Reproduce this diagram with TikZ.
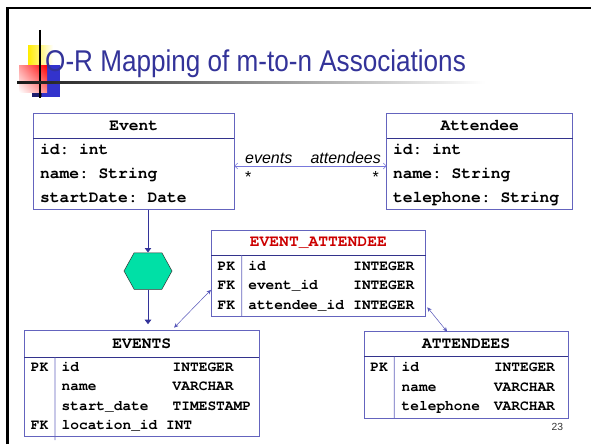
\documentclass[tikz,border=0pt]{standalone}
\usepackage{fontspec}
\setmainfont{Liberation Sans}
\newfontfamily\codefont{texgyrecursor}[Extension=.otf, UprightFont=*-regular, BoldFont=*-bold]
\usepackage{array}
\usetikzlibrary{arrows.meta,positioning,shapes.symbols,shadings}

\definecolor{titleblue}{RGB}{51,51,153}
\definecolor{boxline}{RGB}{100,100,190}
\definecolor{darkrule}{RGB}{51,51,140}
\definecolor{assoccol}{RGB}{120,120,220}
\definecolor{linkcol}{RGB}{85,85,185}
\definecolor{tabred}{RGB}{204,0,0}
\definecolor{hexgreen}{RGB}{0,224,166}
\definecolor{decoblue}{RGB}{51,51,204}
\definecolor{deconavy}{RGB}{30,30,110}

\begin{document}
\begin{tikzpicture}[x=1pt, y=-1pt,
    classhead/.style={rectangle, draw=boxline, line width=0.8pt, inner sep=0pt, outer sep=0pt, minimum height=25.3pt, font=\codefont\bfseries\fontsize{16.3}{19}\selectfont},
    classbody/.style={rectangle, draw=boxline, line width=0.8pt, inner sep=0pt, outer sep=0pt, minimum height=70.7pt, font=\codefont\bfseries\frenchspacing\fontsize{16.3}{23.8}\selectfont},
    tablebody/.style={rectangle, draw=boxline, line width=0.8pt, inner sep=0pt, outer sep=0pt, font=\codefont\bfseries\fontsize{14.5}{19.4}\selectfont},
    sepline/.style={draw=darkrule, line width=1pt},
    assoc/.style={draw=assoccol, line width=0.6pt, {Straight Barb[length=3pt,width=6pt]}-{Straight Barb[length=3pt,width=6pt]}},
    flow/.style={draw=titleblue, line width=0.9pt, -{Triangle[length=4.5pt,width=6.5pt]}},
    link/.style={draw=linkcol, line width=0.5pt, {Stealth[length=4.5pt,width=4pt]}-{Stealth[length=4.5pt,width=4pt]}},
    role/.style={font=\itshape\fontsize{16}{19}\selectfont, inner sep=0pt},
    mult/.style={font=\fontsize{16}{19}\selectfont, inner sep=0pt},
    slidetitle/.style={font=\fontsize{30}{36}\selectfont, text=titleblue, inner sep=0pt}]

\useasboundingbox (0,0) rectangle (591,444);
\fill[white] (0,0) rectangle (591,444);

% slide frame and title decoration
\draw[line width=2.6pt] (7.4,444) -- (7.4,8.2) -- (591,8.2);
\shade[left color=yellow!85!orange, right color=white] (28,46) rectangle (53,65);
\fill[decoblue] (32,65) rectangle (60,96.5);
\fill[deconavy] (32,92.5) rectangle (42,96.5);
\shade[upper left=red!40!white, upper right=red, lower left=white, lower right=red!45!white] (19,65) rectangle (47,92);
\draw[line width=2.6pt] (40,30) -- (40,98);
\shade[left color=black!90, right color=white] (17,81) rectangle (485,83.8);
\node[slidetitle, anchor=base west] (title) at (45,71) {\scalebox{0.87}[1]{O-R Mapping of m-to-n Associations}};

% classes
\node[classhead, minimum width=201pt, anchor=north west] (evhead) at (33.3,113) {Event};
\node[classbody, minimum width=201pt, below=0pt of evhead] (evbody) {\begin{tabular}{@{\hspace{6.7pt}}wl{194.3pt}@{}}
id: int\\ name: String\\ startDate: Date
\end{tabular}};

\node[classhead, minimum width=186pt, anchor=north west] (athead) at (386.7,113) {Attendee};
\node[classbody, minimum width=186pt, below=0pt of athead] (atbody) {\begin{tabular}{@{\hspace{6.3pt}}wl{179.7pt}@{}}
id: int\\ name: String\\ telephone: String
\end{tabular}};

% association
\draw[assoc] ([yshift=8pt]evbody.east) -- ([yshift=8pt]atbody.west);
\node[role, anchor=base west] (evrole) at (245,163.3) {events};
\node[role, anchor=base east] (atrole) at (381,163.3) {attendees};
\node[mult, anchor=base west] (evmult) at (245,182) {*};
\node[mult, anchor=base east] (atmult) at (379,182) {*};

% tables
\node[classhead, text=tabred, minimum width=214.7pt, minimum height=24.3pt, anchor=north west] (eahead) at (211,230.7) {EVENT\_ATTENDEE};
\node[tablebody, minimum width=214.7pt, minimum height=61.7pt, below=0pt of eahead] (eabody) {\begin{tabular}{@{}wc{30.7pt}@{\hspace{6.6pt}}wl{105pt}@{}wl{72.4pt}@{}}
PK & id & INTEGER\\
FK & event\_id & INTEGER\\
FK & attendee\_id & INTEGER
\end{tabular}};

\node[classhead, minimum width=235pt, minimum height=26.6pt, anchor=north west] (evshead) at (24.3,330.7) {EVENTS};
\node[tablebody, minimum width=235pt, minimum height=78.7pt, below=0pt of evshead] (evsbody) {\begin{tabular}{@{}wc{30.7pt}@{\hspace{6.7pt}}wl{111pt}@{}wl{86.6pt}@{}}
PK & id & INTEGER\\
 & name & VARCHAR\\
 & start\_date & TIMESTAMP\\
FK & \multicolumn{2}{@{}l@{}}{location\_id INT}
\end{tabular}};

\node[classhead, minimum width=204.3pt, minimum height=25pt, anchor=north west] (atshead) at (364,331.7) {ATTENDEES};
\node[tablebody, minimum width=204.3pt, minimum height=61.6pt, below=0pt of atshead] (atsbody) {\begin{tabular}{@{}wc{30.3pt}@{\hspace{7.4pt}}wl{92.3pt}@{}wl{74.3pt}@{}}
PK & id & INTEGER\\
 & name & VARCHAR\\
 & telephone & VARCHAR
\end{tabular}};

\foreach \t in {evhead,athead,eahead,evshead,atshead}
  \draw[sepline] (\t.south west) -- (\t.south east);
\draw[boxline, line width=0.8pt] ([xshift=30.7pt]eahead.south west) -- ([xshift=30.7pt]eabody.south west);
\draw[boxline, line width=0.8pt] ([xshift=30.7pt]evshead.south west) -- ([xshift=30.7pt,yshift=-4pt]evsbody.south west);
\draw[boxline, line width=0.8pt] ([xshift=30.3pt]atshead.south west) -- ([xshift=30.3pt]atsbody.south west);

% mapping
\node[signal, signal to=east and west, signal pointer angle=122, draw=black!80, line width=0.5pt, fill=hexgreen, minimum width=48pt, minimum height=36.5pt, inner sep=0pt] (hex) at (148,271) {};
\draw[flow] (hex.north |- evbody.south) -- (hex.north);
\draw[flow, shorten >=6.5pt] (hex.south) -- (hex.south |- evshead.north);
\draw[link] ([yshift=-4pt]eabody.west) -- ([xshift=32.3pt,yshift=3pt]evshead.north);
\draw[link] ([xshift=1.6pt,yshift=9.4pt]eabody.south east) -- ([xshift=-19pt]atshead.north);

\node[font=\fontsize{10.3}{12}\selectfont, text=black!80, inner sep=0pt, anchor=base east] (pagenum) at (563.3,430.7) {23};
\end{tikzpicture}
\end{document}
